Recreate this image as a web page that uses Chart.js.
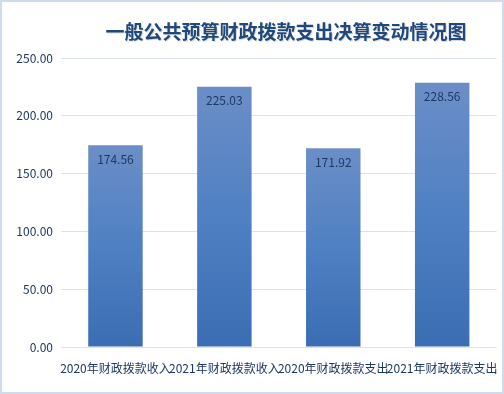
<!DOCTYPE html>
<html>
<head>
<meta charset="utf-8">
<script src="https://cdn.jsdelivr.net/npm/chart.js@4/dist/chart.umd.min.js"></script>
<style>
  html, body { margin: 0; padding: 0; background: #fff; }
  #wrap { width: 504px; height: 394px; position: relative; }
</style>
</head>
<body>
<div id="wrap"><canvas id="chart" width="504" height="394"></canvas></div>
<script>
// chart data
const chartTitle = '一般公共预算财政拨款支出决算变动情况图';
const categories = ['2020年财政拨款收入', '2021年财政拨款收入', '2020年财政拨款支出', '2021年财政拨款支出'];
const values = [174.56, 225.03, 171.92, 228.56];
const yTicks = [0, 50, 100, 150, 200, 250];

const cjkFont = "'Noto Sans CJK SC', 'Noto Sans', sans-serif";

// per-bar vertical gradient, lighter at the top
function barGradient(context) {
    const chart = context.chart;
    const y = chart.scales.y;
    if (!y || context.dataIndex === undefined) return '#5580c0';
    const top = y.getPixelForValue(values[context.dataIndex]);
    const bottom = y.getPixelForValue(0);
    if (!isFinite(top) || !isFinite(bottom) || bottom <= top) return '#5580c0';
    const g = chart.ctx.createLinearGradient(0, top, 0, bottom);
    g.addColorStop(0, '#6b8ec7');
    g.addColorStop(0.5, '#4f80c3');
    g.addColorStop(1, '#3b6db3');
    return g;
}

// title, value labels and frame
const decorations = {
    id: 'decorations',
    afterDatasetsDraw(chart) {
        const ctx = chart.ctx;
        const meta = chart.getDatasetMeta(0);
        ctx.save();
        ctx.font = '12px ' + cjkFont;
        ctx.fillStyle = '#1f3864';
        ctx.textAlign = 'center';
        ctx.textBaseline = 'middle';
        meta.data.forEach((bar, i) => {
            ctx.fillText(values[i].toFixed(2), bar.x, bar.y + 14);
        });
        ctx.restore();
    },
    afterDraw(chart) {
        const ctx = chart.ctx;
        ctx.save();
        ctx.font = 'bold 19px ' + cjkFont;
        ctx.textAlign = 'center';
        ctx.textBaseline = 'middle';
        ctx.fillStyle = 'rgba(0,0,0,0.15)';
        ctx.fillText(chartTitle, 287, 33);
        ctx.fillStyle = '#1f497d';
        ctx.fillText(chartTitle, 286, 32);
        // light blue frame
        ctx.strokeStyle = '#cfdcec';
        ctx.lineWidth = 2;
        ctx.strokeRect(1, 1, chart.width - 2, chart.height - 2);
        ctx.restore();
    }
};

new Chart(document.getElementById('chart'), {
    type: 'bar',
    data: {
        labels: categories,
        datasets: [{
            data: values,
            backgroundColor: barGradient,
            borderWidth: 0,
            categoryPercentage: 1,
            barPercentage: 0.5
        }]
    },
    options: {
        responsive: false,
        animation: false,
        layout: { padding: { top: 58, right: 4, left: 0, bottom: 0 } },
        plugins: {
            legend: { display: false },
            title: { display: false },
            tooltip: { enabled: false }
        },
        scales: {
            y: {
                min: 0,
                max: 250,
                afterBuildTicks: scale => {
                    scale.ticks = yTicks.map(v => ({ value: v }));
                },
                afterFit: scale => { scale.width = 61; },
                border: { display: false },
                grid: { color: '#d9e2ee', drawTicks: false, lineWidth: 1 },
                ticks: {
                    padding: 8,
                    color: '#1f3864',
                    font: { family: cjkFont, size: 12 },
                    callback: v => Number(v).toFixed(2)
                }
            },
            x: {
                afterFit: scale => { scale.height = 47; },
                border: { display: false },
                grid: { display: false },
                ticks: {
                    padding: 6,
                    maxRotation: 0,
                    autoSkip: false,
                    color: '#1f3864',
                    font: { family: cjkFont, size: 12 }
                }
            }
        }
    },
    plugins: [decorations]
});
</script>
</body>
</html>
